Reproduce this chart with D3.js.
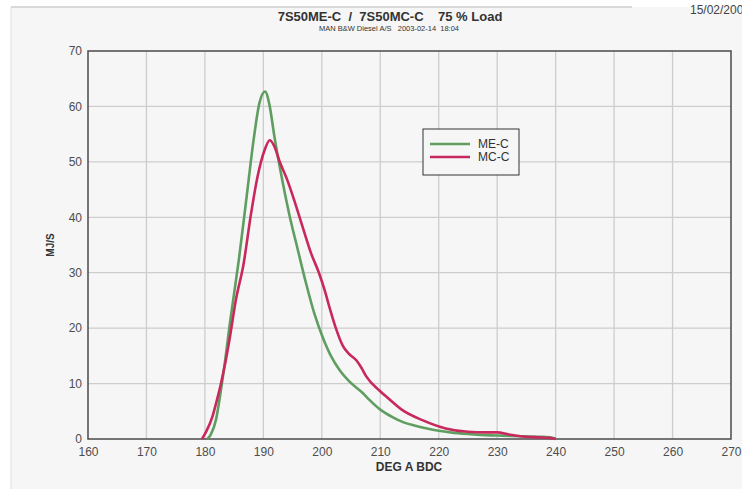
<!DOCTYPE html>
<html>
<head>
<meta charset="utf-8">
<script src="https://cdn.jsdelivr.net/npm/d3@7/dist/d3.min.js"></script>
<style>
  body { margin: 0; background: #fff; }
  text { font-family: "Liberation Sans", Arial, sans-serif; }
</style>
</head>
<body>
<script>
// ME-C heat release (MJ/s) vs crank angle (deg A BDC)
var degME = [180.4, 181.0, 181.9, 182.7, 183.5, 184.2, 185.0, 185.8, 187.0, 188.4, 189.3, 190.3,
  191.0, 191.9, 193.0, 194.4, 195.9, 197.3, 198.7, 200.1, 201.6, 203.0, 204.7, 207.0, 208.1,
  210.0, 212.0, 214.0, 216.0, 218.0, 220.0, 222.0, 225.0, 228.0, 231.0, 234.0, 237.0, 239.0, 240.0];
var valME = [0, 0.8, 3.5, 8.5, 14.5, 20.3, 26.3, 32.3, 42.5, 54.5, 60.5, 62.7,
  60.5, 54.5, 48.0, 40.7, 34.1, 28.1, 22.7, 18.5, 14.9, 12.5, 10.4, 8.3, 7.1,
  5.3, 4.0, 3.0, 2.4, 1.9, 1.5, 1.2, 0.9, 0.7, 0.6, 0.5, 0.4, 0.3, 0.1];

// MC-C
var degMC = [179.5, 180.3, 181.3, 182.0, 182.7, 183.5, 184.2, 185.3, 186.6, 187.9, 189.0, 190.2,
  191.1, 192.0, 192.7, 194.1, 195.3, 196.7, 198.2, 199.5, 200.5, 201.3, 202.4, 203.6, 204.6,
  205.9, 206.8, 207.6, 209.8, 211.3, 213.8, 217.2, 221.2, 225.0, 228.0, 230.0, 232.0, 234.0,
  237.0, 239.0, 240.0];
var valMC = [0, 1.5, 4.1, 6.8, 9.8, 13.8, 17.9, 25.1, 31.5, 40.7, 47.3, 52.1,
  53.9, 52.5, 50.3, 46.7, 43.0, 38.3, 33.4, 30.0, 26.8, 23.8, 20.0, 16.8, 15.4,
  14.2, 12.8, 11.3, 8.8, 7.4, 5.2, 3.4, 1.9, 1.3, 1.2, 1.2, 0.8, 0.5,
  0.3, 0.2, 0];

var xTicks = [160, 170, 180, 190, 200, 210, 220, 230, 240, 250, 260, 270];
var yTicks = [0, 10, 20, 30, 40, 50, 60, 70];
var seriesNames = ['ME-C', 'MC-C'];
var seriesColors = ['#5f9e60', '#c9285c'];

(function() {
  var width = 742, height = 489;
  var left = 88, right = 731, plotTop = 51, bottom = 439;

  var svg = d3.select('body').append('svg')
    .attr('width', width)
    .attr('height', height);

  // panel background + frame
  svg.append('rect').attr('x', 11).attr('y', 7)
    .attr('width', width - 11).attr('height', height - 7)
    .attr('fill', '#f6f6f6');
  svg.append('line').attr('x1', 11).attr('x2', 632).attr('y1', 7).attr('y2', 7)
    .attr('stroke', '#d9d9d9').attr('stroke-width', 2);
  svg.append('line').attr('x1', 11).attr('x2', 11).attr('y1', 7).attr('y2', height)
    .attr('stroke', '#dedede').attr('stroke-width', 1);

  var x = d3.scaleLinear().domain([160, 270]).range([left, right]);
  var y = d3.scaleLinear().domain([0, 70]).range([bottom, plotTop]);

  // grid
  svg.append('g').selectAll('line')
    .data(xTicks.slice(1, -1))
    .join('line')
    .attr('x1', d => x(d)).attr('x2', d => x(d))
    .attr('y1', plotTop).attr('y2', bottom)
    .attr('stroke', '#cdcdcd').attr('stroke-width', 1.3);
  svg.append('g').selectAll('line')
    .data(yTicks.slice(1, -1))
    .join('line')
    .attr('x1', left).attr('x2', right)
    .attr('y1', d => y(d)).attr('y2', d => y(d))
    .attr('stroke', '#cdcdcd').attr('stroke-width', 1.3);

  svg.append('rect')
    .attr('x', left).attr('y', plotTop)
    .attr('width', right - left).attr('height', bottom - plotTop)
    .attr('fill', 'none').attr('stroke', '#4a4a4a').attr('stroke-width', 1.5);

  // axes
  var xAxis = svg.append('g')
    .attr('transform', `translate(0, ${bottom})`)
    .call(d3.axisBottom(x).tickValues(xTicks).tickSize(0).tickPadding(8));
  var yAxis = svg.append('g')
    .attr('transform', `translate(${left}, 0)`)
    .call(d3.axisLeft(y).tickValues(yTicks).tickSize(0).tickPadding(6));
  [xAxis, yAxis].forEach(function(g) {
    g.select('.domain').remove();
    g.selectAll('text')
      .style('font-family', '"Liberation Sans", Arial, sans-serif')
      .style('font-size', '12px')
      .attr('fill', '#4d4d4d');
  });

  // lines
  var line = d3.line()
    .x(d => x(d[0]))
    .y(d => y(d[1]))
    .curve(d3.curveMonotoneX);

  var series = [d3.zip(degME, valME), d3.zip(degMC, valMC)];
  svg.append('g').selectAll('path')
    .data(series)
    .join('path')
    .attr('d', line)
    .attr('fill', 'none')
    .attr('stroke', (d, i) => seriesColors[i])
    .attr('stroke-width', 2.6)
    .attr('stroke-linejoin', 'round');

  // legend
  var lg = svg.append('g').attr('transform', 'translate(423, 129)');
  lg.append('rect').attr('width', 96).attr('height', 46)
    .attr('fill', '#f6f6f6').attr('stroke', '#333').attr('stroke-width', 1);
  seriesNames.forEach(function(name, i) {
    lg.append('line')
      .attr('x1', 7).attr('x2', 47)
      .attr('y1', 15 + i * 13).attr('y2', 15 + i * 13)
      .attr('stroke', seriesColors[i]).attr('stroke-width', 2.6);
    lg.append('text')
      .attr('x', 55).attr('y', 19 + i * 13)
      .attr('font-size', 12).attr('fill', '#333')
      .text(name);
  });

  // titles
  svg.append('text')
    .attr('x', 390).attr('y', 21)
    .attr('text-anchor', 'middle')
    .attr('font-size', 13).attr('font-weight', 'bold').attr('fill', '#333')
    .style('white-space', 'pre')
    .text('7S50ME-C  /  7S50MC-C    75 % Load');
  svg.append('text')
    .attr('x', 389).attr('y', 31)
    .attr('text-anchor', 'middle')
    .attr('font-size', 7.5).attr('fill', '#333')
    .style('white-space', 'pre')
    .text('MAN B&W Diesel A/S   2003-02-14  18:04');
  // the reference clips this date at the right edge
  svg.append('text')
    .attr('x', 690).attr('y', 14)
    .attr('font-size', 12).attr('fill', '#444')
    .text('15/02/2003');

  svg.append('text')
    .attr('x', 409).attr('y', 471)
    .attr('text-anchor', 'middle')
    .attr('font-size', 12).attr('font-weight', 'bold').attr('fill', '#333')
    .style('font-family', '"Liberation Sans Narrow", "Liberation Sans", Arial, sans-serif')
    .text('DEG A BDC');
  svg.append('text')
    .attr('transform', 'translate(54, 245) rotate(-90)')
    .attr('text-anchor', 'middle')
    .attr('font-size', 10).attr('font-weight', 'bold').attr('fill', '#333')
    .text('MJ/S');
})();
</script>
</body>
</html>
